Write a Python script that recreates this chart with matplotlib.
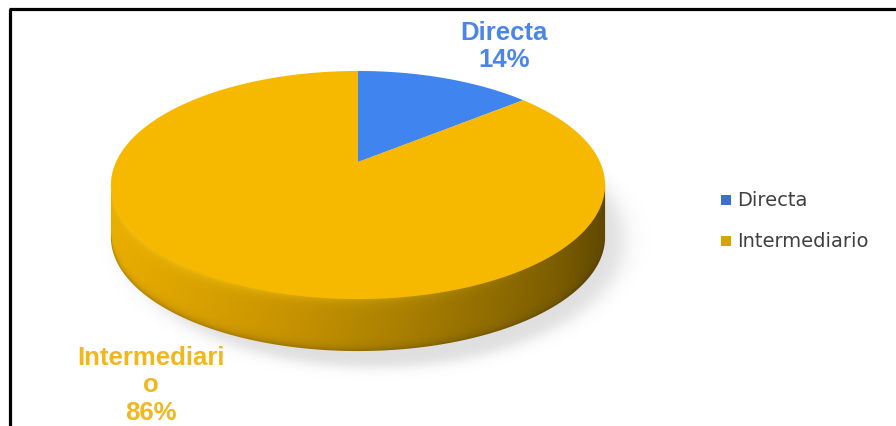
import textwrap

import matplotlib
matplotlib.use("Agg")
import matplotlib.pyplot as plt
import numpy as np
from matplotlib.colors import to_rgb
from matplotlib.patches import Polygon

# channel share (%)
labels = ["Directa", "Intermediario"]
shares = [14, 86]
colors = ["#3F84EF", "#F6B900"]
label_colors = ["#4A86E8", "#F2B71C"]
legend_colors = ["#3C6FC8", "#D9A400"]

W, H = 896, 427
# perspective disc: centre, half-axes, depth factor, rim thickness (pixels)
CX, CY, A, B, K, T = 358, 163, 242, 109.4, 0.2018, 52


def project(theta, drop=0.0):
    u, v = np.sin(theta), np.cos(theta)
    w = 1 + K * v
    return CX + A * u / w, CY - B * v / w + drop


fig = plt.figure(figsize=(W / 100, H / 100), dpi=100)
ax = fig.add_axes([0, 0, 1, 1])
ax.set_xlim(0, W)
ax.set_ylim(H, 0)
ax.axis("off")

# soft drop shadow under the disc
gx, gy = np.meshgrid(np.arange(W), np.arange(H))
r = np.sqrt(((gx - 374) / 250.0) ** 2 + ((gy - 240) / 128.0) ** 2)
alpha = 0.28 / (1 + np.exp((r - 1) / 0.025))
shadow = np.zeros((H, W, 4))
shadow[..., :3] = 0.55
shadow[..., 3] = alpha
ax.imshow(shadow, extent=(0, W, H, 0), zorder=1, interpolation="bilinear")

# visible rim: front half of the disc between the two silhouette points
t0 = np.arccos(-K)
th = np.linspace(t0, 2 * np.pi - t0, 400)
fx, fy = project(th)
side_pts = np.vstack([np.column_stack([fx, fy - 3]),
                      np.column_stack([fx, fy + T])[::-1]])
side_patch = Polygon(side_pts, closed=True, facecolor="none", edgecolor="none")
ax.add_patch(side_patch)

stops = [(111, "#E9AE00"), (200, "#D9A100"), (300, "#C49100"), (400, "#AA8000"),
         (500, "#8E6B00"), (560, "#7A5C00"), (607, "#5E4700")]
xs = np.arange(100, 620)
base = np.array([np.interp(xs, [s[0] for s in stops],
                           [to_rgb(s[1])[c] for s in stops]) for c in range(3)]).T
order = np.argsort(fx)
ytop = np.interp(xs, fx[order], fy[order])
ys = np.arange(180, 370)
img = np.ones((len(ys), len(xs), 4))
d = ys[:, None] - ytop[None, :]
img[..., :3] = base[None, :, :]
# bevel highlight along the upper edge, fading towards the dark side
hl = np.exp(-np.clip(d + 3, 0, None) / 5.0) * np.clip((560 - xs) / 450.0, 0, 1)[None, :]
hi = np.array(to_rgb("#FFD31F"))
img[..., :3] = img[..., :3] * (1 - hl[..., None]) + hi * hl[..., None]
# darker lip at the lower edge
lo = np.exp(-np.clip(T - d, 0, None) / 4.0) * 0.25
img[..., :3] *= (1 - lo[..., None])
im = ax.imshow(img, extent=(xs[0], xs[-1] + 1, ys[-1] + 1, ys[0]), zorder=2,
               interpolation="bilinear")
im.set_clip_path(side_patch)

# top face wedges, clockwise from twelve o'clock
start = 0.0
for share, col in zip(shares, colors):
    span = 2 * np.pi * share / sum(shares)
    tt = np.linspace(start, start + span, 300)
    px, py = project(tt)
    pts = np.vstack([[CX, CY], np.column_stack([px, py])])
    ax.add_patch(Polygon(pts, closed=True, facecolor=col, edgecolor="none", zorder=3))
    start += span

# data labels
font = ["Liberation Sans", "DejaVu Sans"]
label_pos = [(504, 21), (151, 346)]
for name, share, col, (lx, ly) in zip(labels, shares, label_colors, label_pos):
    text = "\n".join(textwrap.wrap(name, 12) + [f"{share}%"])
    ax.text(lx, ly, text, ha="center", va="top", color=col, fontsize=18.5,
            fontweight="bold", family=font, linespacing=1.18, zorder=5)

# legend
for i, (name, col) in enumerate(zip(labels, legend_colors)):
    y = 201 + 41 * i
    ax.scatter([726], [y], marker="s", s=42, color=col, edgecolors="none", zorder=5)
    ax.text(737, y, name, ha="left", va="center", color="#404040", fontsize=14,
            family="DejaVu Sans", zorder=5)

# frame (only the top and left edges fall inside the image)
ax.plot([9.5, 9.5], [H, 10], color="black", lw=2.3, solid_capstyle="butt", zorder=6)
ax.plot([8.5, W], [10, 10], color="black", lw=2.3, solid_capstyle="butt", zorder=6)

fig.savefig("out.png", dpi=100)
